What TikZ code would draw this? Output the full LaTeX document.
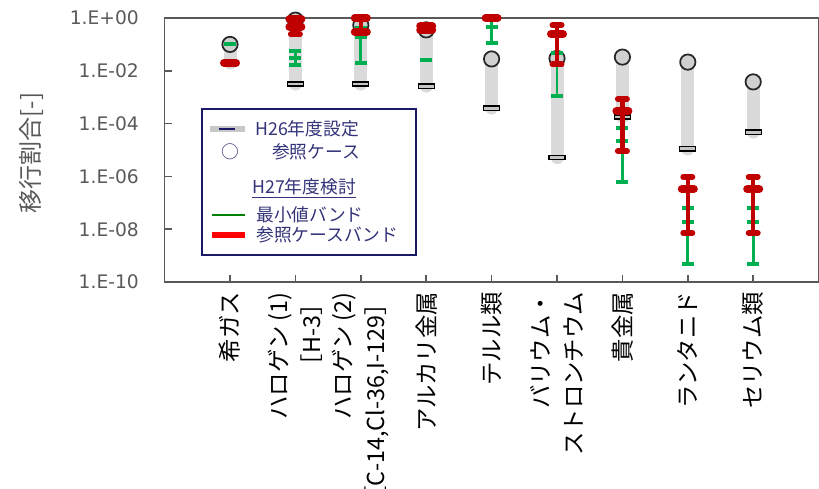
\documentclass[tikz,border=0pt]{standalone}
\usepackage{fontspec}
\setmainfont{DejaVu Sans}
\newfontfamily\jpfont{Noto Sans CJK JP}
\definecolor{axisgray}{HTML}{595959}
\definecolor{bandgray}{HTML}{DADADA}
\definecolor{dotgray}{HTML}{D0D0D0}
\definecolor{mingreen}{HTML}{00B050}
\definecolor{refred}{HTML}{C00000}
\definecolor{legnavy}{HTML}{1A1A66}
\definecolor{legtext}{HTML}{33337A}
\definecolor{leggreen}{HTML}{008000}
\definecolor{legred}{HTML}{FF0000}
\begin{document}
\begin{tikzpicture}[x=49.05pt,y=19.8pt,
		h26bar/.style={bandgray,line width=9.75pt,line cap=round},
		h26mark/.style={rectangle,draw=black,fill=gray!45,line width=1pt,minimum width=12pt,minimum height=3.2pt,inner sep=0pt},
		refdot/.style={circle,draw=black!85,fill=dotgray,line width=1.3pt,minimum size=11.5pt,inner sep=0pt},
		minline/.style={mingreen,line width=2.2pt},
		mintick/.style={mingreen,line width=3pt},
		refline/.style={refred,line width=3.4pt},
		refcap/.style={refred,line width=4.5pt,line cap=round},
		refwide/.style={refred,line width=6pt,line cap=round},
		ticklabel/.style={left,text=axisgray,font=\fontsize{14}{16}\selectfont,inner sep=0pt},
		catlabel/.style={rotate=90,anchor=east,align=right,font=\jpfont\fontsize{17.5}{25}\selectfont,inner sep=0pt},
		legtxt/.style={anchor=west,inner sep=0pt,text=legtext,font=\jpfont\fontsize{13.3}{16}\selectfont}]
		\useasboundingbox (-2.517,0.682) rectangle (10.006,-17.84);

		% axes
		\draw[axisgray,line width=1.1pt] (0,-10) rectangle (10,0);
		\foreach \y in {-2,-4,-6,-8} {\draw[axisgray,line width=1.1pt] (0,\y) -- (0.107,\y);}
		\foreach \x in {1,...,9} {\draw[axisgray,line width=1.1pt] (\x,-10) -- (\x,-9.735);}

		\foreach \y/\e in {0/+00,-2/-02,-4/-04,-6/-06,-8/-08,-10/-10}
			{\node[ticklabel] (ylab\y) at (-0.39,\y) {1.E\e};}
		\node[rotate=90,text=axisgray,font=\jpfont\fontsize{18}{20}\selectfont] (ytitle) at (-2.035,-5.11) {移行割合[-]};

		\node[catlabel] (cat1) at (1,-10.38) {希ガス};
		\node[catlabel] (cat2) at (2,-10.38) {ハロゲン (1)\\［H-3］};
		\node[catlabel] (cat3) at (3,-10.38) {ハロゲン (2)\\［C-14,Cl-36,I-129］};
		\node[catlabel] (cat4) at (4,-10.38) {アルカリ金属};
		\node[catlabel] (cat5) at (5,-10.38) {テルル類};
		\node[catlabel] (cat6) at (6,-10.38) {バリウム・\\ストロンチウム};
		\node[catlabel] (cat7) at (7,-10.38) {貴金属};
		\node[catlabel] (cat8) at (8,-10.38) {ランタニド};
		\node[catlabel] (cat9) at (9,-10.38) {セリウム類};

		% H26 range and reference case
		\foreach \x/\top/\bot in {1/-1.0/-1.7, 2/-0.08/-2.5, 3/-0.27/-2.5, 4/-0.45/-2.58, 5/-1.55/-3.41, 6/-1.53/-5.29, 7/-1.48/-3.75, 8/-1.67/-4.96, 9/-2.42/-4.32} {
			\draw[h26bar] (\x,\top) -- (\x,\bot);
			\node[h26mark] (h26-\x) at (\x,\bot) {};
			\node[refdot] (ref-\x) at (\x,\top) {};
		}

		% minimum value band
		\foreach \x/\a/\b in {2/-1.25/-1.78, 3/-0.38/-1.70, 5/0/-0.95, 6/-1.33/-2.95, 7/-3.52/-6.21, 8/-6.48/-9.32, 9/-6.48/-9.32}
			{\draw[minline] (\x,\a) -- (\x,\b);}
		\foreach \x/\y in {1/-1.0, 2/-1.25, 2/-1.52, 2/-1.78, 3/-0.38, 3/-0.72, 3/-1.70, 4/-1.59, 5/-0.34, 5/-0.95, 6/-1.33, 6/-2.95, 7/-4.17, 7/-4.66, 7/-6.21, 8/-7.2, 8/-7.73, 8/-9.32, 9/-7.2, 9/-7.73, 9/-9.32}
			{\draw[mintick] (\x-0.092,\y) -- (\x+0.092,\y);}

		% reference case band
		\foreach \x/\a/\b in {2/-0.05/-0.62, 3/0/-0.53, 4/-0.30/-0.45, 6/-0.27/-1.76, 7/-3.07/-5.04, 8/-6.02/-8.14, 9/-6.02/-8.14}
			{\draw[refline] (\x,\a) -- (\x,\b);}
		\foreach \x/\y in {2/-0.62, 6/-0.27, 6/-1.76, 7/-3.07, 7/-5.04, 8/-6.02, 8/-8.14, 9/-6.02, 9/-8.14}
			{\draw[refcap] (\x-0.069,\y) -- (\x+0.069,\y);}
		\foreach \x/\y in {1/-1.7, 2/-0.05, 2/-0.33, 3/0, 3/-0.53, 4/-0.30, 4/-0.45, 5/0, 6/-0.61, 7/-3.52, 8/-6.48, 9/-6.48}
			{\draw[refwide] (\x-0.092,\y) -- (\x+0.092,\y);}

		% legend
		\draw[legnavy,line width=1.5pt,fill=white] (0.567,-3.458) rectangle (3.844,-8.989);
		\draw[bandgray!80!gray,line width=5pt] (0.694,-4.205) -- (1.229,-4.205);
		\draw[legnavy,line width=2.2pt] (0.832,-4.205) -- (1.076,-4.205);
		\node[legtxt] (leg-h26) at (1.382,-4.205) {H26年度設定};
		\node[legtxt,anchor=center] (leg-dot) at (1.0,-5.076) {○};
		\node[legtxt] (leg-ref) at (1.642,-5.076) {参照ケース};
		\node[legtxt] (leg-h27) at (1.336,-6.439) {\underline{H27年度検討}};
		\draw[leggreen,line width=2.2pt] (0.725,-7.462) -- (1.229,-7.462);
		\node[legtxt] (leg-min) at (1.398,-7.462) {最小値バンド};
		\draw[legred,line width=3.8pt] (0.725,-8.22) -- (1.229,-8.22);
		\node[legtxt] (leg-band) at (1.398,-8.22) {参照ケースバンド};
	\end{tikzpicture}
\end{document}
